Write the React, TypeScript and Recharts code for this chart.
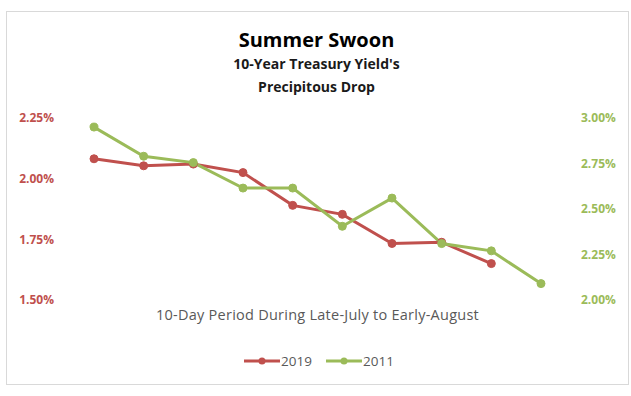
import React from 'react';
import { Line, LineChart, XAxis, YAxis } from 'recharts';

const days = ['1', '2', '3', '4', '5', '6', '7', '8', '9', '10'];
const yield2019 = [2.082, 2.053, 2.06, 2.025, 1.89, 1.853, 1.733, 1.738, 1.65, null];
const yield2011 = [2.95, 2.79, 2.755, 2.615, 2.615, 2.405, 2.56, 2.31, 2.27, 2.09];
const leftTicks = [1.5, 1.75, 2.0, 2.25];
const rightTicks = [2.0, 2.25, 2.5, 2.75, 3.0];
const seriesNames = ['2019', '2011'];

const data = days.map((day, i) => ({
	day,
	'2019': yield2019[i],
	'2011': yield2011[i],
}));

const RED = '#C0504D';
const GREEN = '#9BBB59';
const FONT = '"Open Sans", sans-serif';

const fmt = (v: number) => v.toFixed(2) + '%';

const ChartLegend = () => {
	const colors = [RED, GREEN];
	const lefts = [244, 326];
	return (
		<div style={{ position: 'absolute', left: 0, top: 349, width: 631, height: 24 }}>
			{seriesNames.map((name, i) => (
				<div
					key={name}
					style={{
						position: 'absolute',
						left: lefts[i],
						top: 0,
						display: 'flex',
						alignItems: 'center',
						height: 24,
					}}
				>
					<svg width={36} height={10}>
						<line x1={0} y1={5} x2={36} y2={5} stroke={colors[i]} strokeWidth={3} />
						<circle cx={18} cy={5} r={3.5} fill={colors[i]} />
					</svg>
					<span style={{ fontFamily: FONT, fontSize: 13.5, color: '#595959', marginLeft: 1 }}>
						{name}
					</span>
				</div>
			))}
		</div>
	);
};

const App = () => {
	return (
		<div style={{ position: 'absolute', left: 0, top: 0, width: 631, height: 396, background: '#fff' }}>
			<div
				style={{
					position: 'absolute',
					left: 6,
					top: 11,
					width: 621,
					height: 372,
					border: '1px solid #d9d9d9',
				}}
			/>
			<div
				style={{
					position: 'absolute',
					left: 0,
					width: 633,
					top: 26,
					textAlign: 'center',
					fontFamily: FONT,
					fontWeight: 700,
					color: '#000',
					fontSize: 20,
					lineHeight: '28px',
				}}
			>
				Summer Swoon
			</div>
			<div
				style={{
					position: 'absolute',
					left: 0,
					width: 633,
					top: 52,
					textAlign: 'center',
					fontFamily: FONT,
					fontWeight: 700,
					color: '#1a1a1a',
					fontSize: 14,
					lineHeight: '23px',
				}}
			>
				10-Year Treasury Yield's
				<br />
				Precipitous Drop
			</div>
			<div
				style={{
					position: 'absolute',
					left: 0,
					width: 635,
					top: 304,
					textAlign: 'center',
					fontFamily: FONT,
					color: '#595959',
					fontSize: 14.5,
					letterSpacing: 0.25,
					lineHeight: '22px',
				}}
			>
				10-Day Period During Late-July to Early-August
			</div>
			<LineChart
				width={631}
				height={396}
				data={data}
				margin={{ top: 118, right: 0, bottom: 96, left: 0 }}
				style={{ position: 'absolute', left: 0, top: 0 }}
			>
				<XAxis dataKey="day" hide />
				<YAxis
					yAxisId="left"
					orientation="left"
					width={94}
					domain={[1.5, 2.25]}
					ticks={leftTicks}
					tickFormatter={fmt}
					axisLine={false}
					tickLine={false}
					tickSize={0}
					tickMargin={40}
					tick={{ fill: RED, fontFamily: FONT, fontWeight: 700, fontSize: 12 }}
				/>
				<YAxis
					yAxisId="right"
					orientation="right"
					width={90}
					domain={[2.0, 3.0]}
					ticks={rightTicks}
					tickFormatter={fmt}
					axisLine={false}
					tickLine={false}
					tickSize={0}
					tickMargin={40}
					tick={{ fill: GREEN, fontFamily: FONT, fontWeight: 700, fontSize: 12 }}
				/>
				<Line
					yAxisId="left"
					dataKey="2019"
					stroke={RED}
					strokeWidth={3}
					dot={{ r: 4, fill: RED, stroke: RED, strokeWidth: 1 }}
					isAnimationActive={false}
				/>
				<Line
					yAxisId="right"
					dataKey="2011"
					stroke={GREEN}
					strokeWidth={3}
					dot={{ r: 4, fill: GREEN, stroke: GREEN, strokeWidth: 1 }}
					isAnimationActive={false}
				/>
			</LineChart>
			<ChartLegend />
		</div>
	);
};

export default App;
